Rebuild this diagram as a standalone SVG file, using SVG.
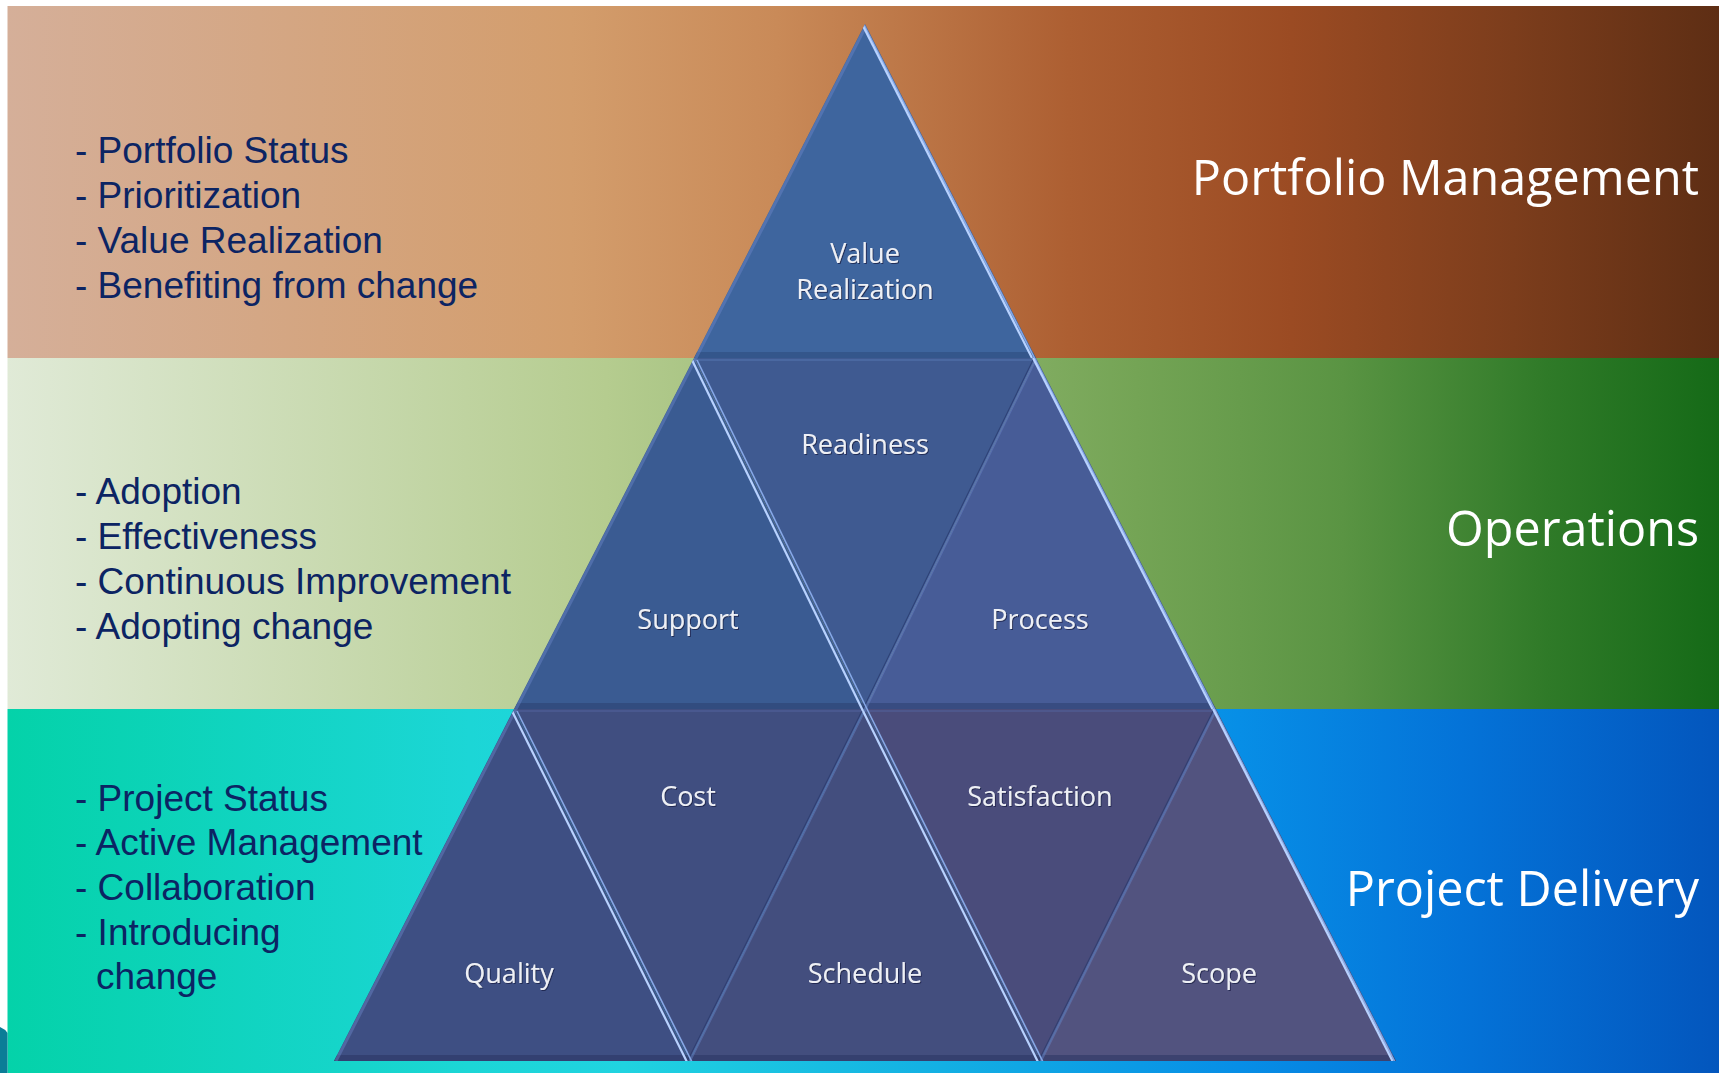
<svg xmlns="http://www.w3.org/2000/svg" width="1719" height="1073" viewBox="0 0 1719 1073">
  <defs>
    <linearGradient id="gTop" gradientUnits="userSpaceOnUse" x1="7" y1="0" x2="1719" y2="0">
      <stop offset="0" stop-color="#d5af99"/>
      <stop offset="0.33" stop-color="#d39d6c"/>
      <stop offset="0.45" stop-color="#c98a58"/>
      <stop offset="0.62" stop-color="#ad5f32"/>
      <stop offset="0.75" stop-color="#9b4b23"/>
      <stop offset="0.88" stop-color="#7c3d1c"/>
      <stop offset="1" stop-color="#5e2e14"/>
    </linearGradient>
    <linearGradient id="gMid" gradientUnits="userSpaceOnUse" x1="7" y1="0" x2="1719" y2="0">
      <stop offset="0" stop-color="#e0ead7"/>
      <stop offset="0.35" stop-color="#b5cc8f"/>
      <stop offset="0.66" stop-color="#74a455"/>
      <stop offset="0.78" stop-color="#5a9443"/>
      <stop offset="0.9" stop-color="#2f7a28"/>
      <stop offset="1" stop-color="#156a17"/>
    </linearGradient>
    <linearGradient id="gBot" gradientUnits="userSpaceOnUse" x1="7" y1="0" x2="1719" y2="0">
      <stop offset="0" stop-color="#04d2a9"/>
      <stop offset="0.27" stop-color="#1cd6d6"/>
      <stop offset="0.36" stop-color="#20d3e0"/>
      <stop offset="0.72" stop-color="#078ee6"/>
      <stop offset="0.85" stop-color="#0473d8"/>
      <stop offset="1" stop-color="#0356bd"/>
    </linearGradient>
    <clipPath id="pyrClip">
      <polygon points="865,24 1396,1061 334,1061"/>
    </clipPath>
    <filter id="txtShadow" x="-10%" y="-30%" width="120%" height="160%">
      <feDropShadow dx="1" dy="1" stdDeviation="0.6" flood-color="#1a2446" flood-opacity="0.8"/>
    </filter>
    <filter id="soft" x="-5%" y="-5%" width="110%" height="110%">
      <feGaussianBlur stdDeviation="1"/>
    </filter>
  </defs>
  <style>
    .list { font-family: "Liberation Sans", Arial, sans-serif; font-size: 37px; fill: #0c2463; }
    .band { font-family: "Open Sans", "DejaVu Sans", sans-serif; font-size: 48.5px; fill: #ffffff; text-anchor: end; }
    .lbl { font-family: "Open Sans", "DejaVu Sans", sans-serif; font-size: 27px; fill: #eef0f6; text-anchor: middle; filter: url(#txtShadow); }
    .hi { stroke: #b8d2ff; stroke-width: 2.2; fill: none; }
    .hi2 { stroke: #86a8e6; stroke-width: 1.6; fill: none; }
    .sf { stroke: #6a86c8; stroke-width: 3; fill: none; opacity: 0.45; }
    .dk { stroke: #27386a; stroke-width: 1.2; fill: none; opacity: 0.7; }
    .sh { stroke-width: 6; fill: none; opacity: 0.55; }
  </style>

  <rect x="0" y="0" width="1719" height="1073" fill="#ffffff"/>

  <g id="bands">
    <rect id="band-portfolio" x="7.5" y="6" width="1711.5" height="352" fill="url(#gTop)"/>
    <rect id="band-operations" x="7.5" y="358" width="1711.5" height="351" fill="url(#gMid)"/>
    <rect id="band-delivery" x="7.5" y="709" width="1711.5" height="364" fill="url(#gBot)"/>
    <path d="M0,1027 Q5,1029 7.5,1033 L7.5,1073 L0,1073 Z" fill="#0b7d97"/>
  </g>

  <g id="list-portfolio">
    <text class="list" x="75" y="163">- Portfolio Status</text>
    <text class="list" x="75" y="208">- Prioritization</text>
    <text class="list" x="75" y="253">- Value Realization</text>
    <text class="list" x="75" y="298">- Benefiting from change</text>
  </g>
  <g id="list-operations">
    <text class="list" x="75" y="504">- Adoption</text>
    <text class="list" x="75" y="549">- Effectiveness</text>
    <text class="list" x="75" y="594">- Continuous Improvement</text>
    <text class="list" x="75" y="639">- Adopting change</text>
  </g>
  <g id="list-delivery">
    <text class="list" x="75" y="811">- Project Status</text>
    <text class="list" x="75" y="855">- Active Management</text>
    <text class="list" x="75" y="900">- Collaboration</text>
    <text class="list" x="75" y="945">- Introducing</text>
    <text class="list" x="96" y="989">change</text>
  </g>

  <g id="title-portfolio"><text class="band" x="1699" y="195">Portfolio Management</text></g>
  <g id="title-operations"><text class="band" x="1699" y="546">Operations</text></g>
  <g id="title-delivery"><text class="band" x="1699" y="906">Project Delivery</text></g>

  <line x1="336" y1="1064" x2="1394" y2="1064" stroke="#10304a" stroke-width="4" opacity="0.45" filter="url(#soft)"/>

  <g id="node-value-realization">
    <polygon points="865,24 1036,358 694,358" fill="#3e659e"/>
    <text class="lbl" x="865" y="263">Value</text>
    <text class="lbl" x="865" y="299">Realization</text>
  </g>
  <g id="node-support">
    <polygon points="694,358 865,709 514,709" fill="#3a5b92"/>
    <text class="lbl" x="688" y="629">Support</text>
  </g>
  <g id="node-readiness">
    <polygon points="694,358 1036,358 865,709" fill="#3f5a91"/>
    <text class="lbl" x="865" y="454">Readiness</text>
  </g>
  <g id="node-process">
    <polygon points="1036,358 1216,709 865,709" fill="#475c97"/>
    <text class="lbl" x="1040" y="629">Process</text>
  </g>
  <g id="node-quality">
    <polygon points="514,709 689.5,1061 334,1061" fill="#3e4f83"/>
    <text class="lbl" x="509" y="983">Quality</text>
  </g>
  <g id="node-cost">
    <polygon points="514,709 865,709 689.5,1061" fill="#404e80"/>
    <text class="lbl" x="688" y="806">Cost</text>
  </g>
  <g id="node-schedule">
    <polygon points="865,709 1040.5,1061 689.5,1061" fill="#434e7e"/>
    <text class="lbl" x="865" y="983">Schedule</text>
  </g>
  <g id="node-satisfaction">
    <polygon points="865,709 1216,709 1040.5,1061" fill="#4a4c7b"/>
    <text class="lbl" x="1040" y="806">Satisfaction</text>
  </g>
  <g id="node-scope">
    <polygon points="1216,709 1396,1061 1040.5,1061" fill="#52537f"/>
    <text class="lbl" x="1219" y="983">Scope</text>
  </g>

  <g id="bevels" clip-path="url(#pyrClip)">
    <line class="sh" stroke="#2c4a7c" x1="600" y1="355" x2="1130" y2="355"/>
    <line class="sh" stroke="#2b3f70" x1="400" y1="706" x2="1330" y2="706"/>
    <line class="sh" stroke="#2a3563" x1="300" y1="1058" x2="1430" y2="1058"/>
    <line stroke="#5676b2" stroke-width="2" opacity="0.5" x1="600" y1="360" x2="1130" y2="360"/>
    <line stroke="#52639e" stroke-width="2" opacity="0.5" x1="400" y1="711" x2="1330" y2="711"/>

    <line class="sf" x1="867" y1="24" x2="696" y2="358"/>
    <line class="sf" x1="696" y1="358" x2="516" y2="709"/>
    <line class="sf" x1="516" y1="709" x2="336" y2="1061"/>
    <line class="sf" x1="1036" y1="358" x2="865" y2="709"/>
    <line class="dk" x1="1034" y1="358" x2="863" y2="709"/>
    <line class="sf" x1="865" y1="709" x2="689.5" y2="1061"/>
    <line class="dk" x1="863" y1="709" x2="687.5" y2="1061"/>
    <line class="sf" x1="1216" y1="709" x2="1040.5" y2="1061"/>
    <line class="dk" x1="1214" y1="709" x2="1038.5" y2="1061"/>

    <line class="hi2" x1="863.5" y1="24" x2="1034.5" y2="358"/>
    <line class="hi" x1="862" y1="24" x2="1032" y2="358"/>
    <line class="hi2" x1="1034.5" y1="358" x2="1214.5" y2="709"/>
    <line class="hi" x1="1033" y1="358" x2="1212.5" y2="709"/>
    <line class="hi2" x1="1214.5" y1="709" x2="1394.5" y2="1061"/>
    <line class="hi" x1="1213" y1="709" x2="1392.5" y2="1061"/>

    <line class="hi" x1="692" y1="360" x2="863" y2="711"/>
    <line class="hi2" x1="697" y1="360" x2="868" y2="711"/>
    <line class="hi" x1="512" y1="711" x2="687.5" y2="1063"/>
    <line class="hi2" x1="517" y1="711" x2="692.5" y2="1063"/>
    <line class="hi" x1="863" y1="711" x2="1038.5" y2="1063"/>
    <line class="hi2" x1="868" y1="711" x2="1043.5" y2="1063"/>
  </g>
</svg>
